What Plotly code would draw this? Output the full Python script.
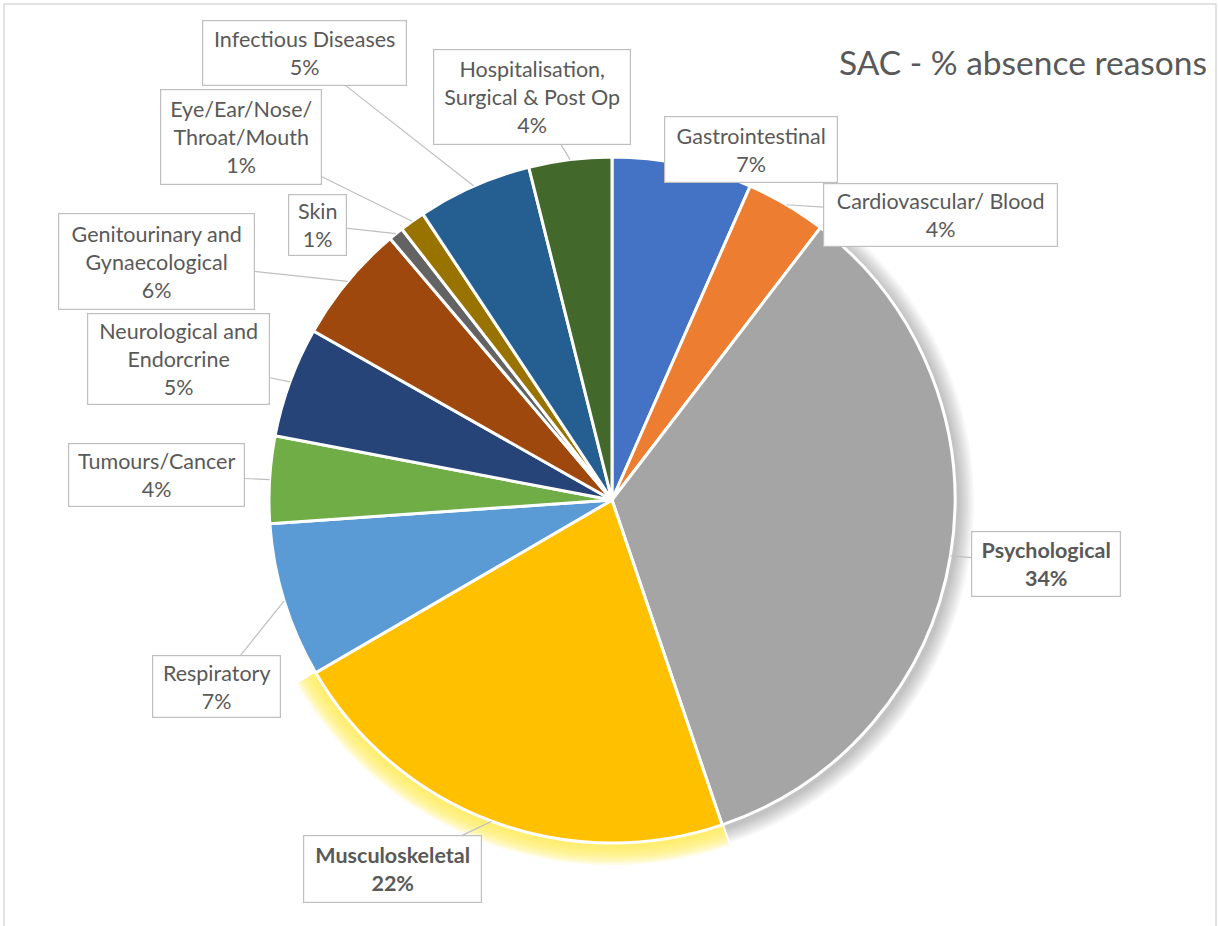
import math
import plotly.graph_objects as go

# ---------------- data ----------------
categories = [
    "Gastrointestinal", "Cardiovascular/ Blood", "Psychological", "Musculoskeletal",
    "Respiratory", "Tumours/Cancer", "Neurological and Endorcrine",
    "Genitourinary and Gynaecological", "Skin", "Eye/Ear/Nose/Throat/Mouth",
    "Infectious Diseases", "Hospitalisation, Surgical & Post Op",
]
values = [6.6, 3.8, 34.4, 21.8, 7.3, 4.1, 5.2, 5.6, 0.7, 1.2, 5.4, 3.9]
label_text = [
    "Gastrointestinal", "Cardiovascular/ Blood", "Psychological", "Musculoskeletal",
    "Respiratory", "Tumours/Cancer", "Neurological and<br>Endorcrine",
    "Genitourinary and<br>Gynaecological", "Skin", "Eye/Ear/Nose/<br>Throat/Mouth",
    "Infectious Diseases", "Hospitalisation,<br>Surgical & Post Op",
]
bold_labels = ["Psychological", "Musculoskeletal"]
colors = ["#4472C4", "#ED7D31", "#A5A5A5", "#FFC000", "#5B9BD5", "#70AD47",
          "#264478", "#9E480E", "#636363", "#997300", "#255E91", "#43682B"]
title_text = "SAC - % absence reasons"

# ---------------- layout constants ----------------
W, H = 1218, 926
CX, CY, R = 612, 500, 343
FONT = "Lato"
TXT = "#595959"
BORDER = "#BFBFBF"

# label box centre (px) and size (px), same order as categories
box_center = [(751, 149), (940, 215), (1046, 564), (392, 869), (216, 686), (156, 475),
              (178, 359), (156, 261), (317, 225), (241, 137), (304, 53), (532, 97)]
box_size = [(174, 67), (235, 64), (150, 66), (179, 68), (129, 63), (177, 64),
            (183, 92), (197, 97), (59, 62), (162, 96), (205, 66), (198, 96)]


def dom(cx, cy, r):
    return dict(x=[(cx - r) / W, (cx + r) / W], y=[1 - (cy + r) / H, 1 - (cy - r) / H])


fig = go.Figure()

# soft shadow (Psychological) and glow (Musculoskeletal) layers
for k in range(8, 0, -1):
    rr = R + 2 * k
    cols = ["rgba(0,0,0,0)"] * len(values)
    cols[2] = "rgba(0,0,0,0.03)"
    fig.add_trace(go.Pie(values=values, labels=categories, sort=False, direction="clockwise",
                         rotation=0, domain=dom(CX + 3, CY + 3, rr), textinfo="none",
                         textposition="none", hoverinfo="skip", showlegend=False,
                         marker=dict(colors=cols, line=dict(width=0))))
for k in range(11, 0, -1):
    rr = R + 2 * k
    cols = ["rgba(0,0,0,0)"] * len(values)
    cols[3] = "rgba(255,240,90,0.17)"
    fig.add_trace(go.Pie(values=values, labels=categories, sort=False, direction="clockwise",
                         rotation=0, domain=dom(CX, CY, rr), textinfo="none",
                         textposition="none", hoverinfo="skip", showlegend=False,
                         marker=dict(colors=cols, line=dict(width=0))))

# main pie
fig.add_trace(go.Pie(values=values, labels=categories, sort=False, direction="clockwise",
                     rotation=0, domain=dom(CX, CY, R), textinfo="none", textposition="none",
                     showlegend=False,
                     marker=dict(colors=colors, line=dict(color="white", width=3))))

total = sum(values)
cum = 0.0
annotations = []
# draw Genitourinary before Neurological so the latter sits on top
order = [0, 1, 2, 3, 4, 5, 7, 6, 8, 9, 10, 11]
tips = []
for i, v in enumerate(values):
    mid = (cum + v / 2) / total * 2 * math.pi
    cum += v
    tips.append((CX + R * math.sin(mid), CY - R * math.cos(mid)))

for i in order:
    pct = round(values[i] / total * 100)
    txt = f"{label_text[i]}<br>{pct}%"
    if categories[i] in bold_labels:
        txt = f"<b>{txt}</b>"
    tx, ty = tips[i]
    bx, by = box_center[i]
    bw, bh = box_size[i]
    annotations.append(dict(
        x=tx / W, y=1 - ty / H, xref="paper", yref="paper",
        ax=bx - tx, ay=by - ty, axref="pixel", ayref="pixel",
        text=txt, showarrow=True, arrowhead=0, arrowwidth=1.2, arrowcolor=BORDER,
        standoff=0, startstandoff=0,
        width=bw - 2, height=bh - 2, borderpad=0, bgcolor="white",
        bordercolor=BORDER, borderwidth=1.2, align="center", valign="middle",
        font=dict(family=FONT, size=21.5, color=TXT),
    ))

annotations.append(dict(x=1023 / W, y=1 - 62 / H, xref="paper", yref="paper", showarrow=False,
                        text=title_text, xanchor="center", yanchor="middle",
                        font=dict(family=FONT, size=33.5, color=TXT)))

fig.update_layout(
    width=W, height=H, margin=dict(l=0, r=0, t=0, b=0),
    paper_bgcolor="white", plot_bgcolor="white",
    annotations=annotations,
    shapes=[dict(type="rect", xref="paper", yref="paper", x0=4 / W, x1=1216 / W,
                 y0=1 - 935 / H, y1=1 - 4 / H, line=dict(color="#D9D9D9", width=1.5),
                 layer="below")],
)

fig.write_html("out.html", config={"displayModeBar": False},
               post_script="document.body.style.margin='0px';document.body.style.overflow='hidden';")
